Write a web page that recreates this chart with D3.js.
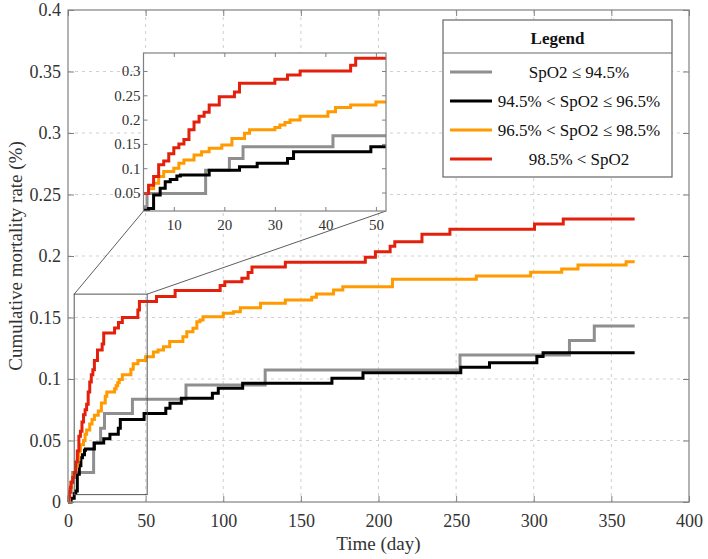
<!DOCTYPE html>
<html>
<head>
<meta charset="utf-8">
<script src="https://cdn.jsdelivr.net/npm/d3@7"></script>
<style>
  body { margin: 0; background: #fff; }
  svg text { font-family: "Liberation Serif", "Times New Roman", serif !important; fill: #333; }
</style>
</head>
<body>
<div id="chart"></div>
<script>
// data: [day, cumulative mortality rate]
const seriesLabels = ['SpO2 \u2264 94.5%', '94.5% < SpO2 \u2264 96.5%', '96.5% < SpO2 \u2264 98.5%', '98.5% < SpO2'];
const seriesColors = ['#8f8f8f', '#000000', '#ff9a00', '#e2200c'];

const grayMain = [[0,0],[1,0.008],[2,0.016],[3,0.024],[16.5,0.048],[21,0.06],[23.5,0.072],[41.5,0.0835],[76,0.0951],
  [127,0.1073],[252.5,0.1195],[323,0.1312],[339,0.1431],[365,0.1431]];
const blackMain = [[0,0],[2,0.003],[4,0.007],[5,0.009],[6,0.0225],[7.3,0.0295],[8.3,0.036],[9.3,0.0385],[10.6,0.042],
  [11.3,0.043],[17,0.048],[23,0.0515],[27,0.055],[32.4,0.06],[33.7,0.067],[49,0.072],[63,0.0762],[65.7,0.0802],
  [73,0.0843],[93,0.0884],[96.8,0.0924],[112.5,0.0965],[170,0.1006],[190,0.1051],[253,0.1095],[271.5,0.1133],
  [302,0.1182],[306,0.1214],[365,0.1214]];
const orangeMain = [[0,0],[1,0.01],[2,0.016],[3,0.021],[4,0.024],[5,0.029],[6,0.0345],[7,0.0415],[8,0.0465],[10,0.05],
  [11,0.055],[12,0.0585],[14,0.0635],[15.5,0.067],[17,0.0705],[19.5,0.074],[21.5,0.0805],[24,0.086],[25,0.0895],
  [30,0.092],[31,0.0945],[32,0.097],[33,0.0995],[35,0.1035],[40.5,0.108],[42,0.1125],[45,0.115],[50,0.118],
  [55,0.122],[58,0.1236],[61.5,0.1263],[65.5,0.1304],[74,0.1344],[76.5,0.1385],[80.5,0.1412],[83,0.1466],
  [85,0.148],[87,0.1507],[100,0.1534],[106.5,0.1547],[111,0.158],[124,0.1615],[140,0.1642],[157,0.1665],
  [160,0.1691],[171,0.1724],[177,0.1751],[209,0.181],[263,0.1837],[298,0.1867],[318,0.1894],[328.5,0.1927],
  [359.5,0.1954],[365,0.1954]];
const redMain = [[0,0],[0.5,0.004],[1,0.008],[1.5,0.012],[2,0.016],[3,0.02],[4,0.024],[5,0.0325],[6,0.0415],[7,0.0535],
  [8,0.0575],[9,0.065],[10,0.071],[11,0.075],[12,0.0795],[13,0.0895],[14,0.0975],[15,0.1035],[16,0.1075],
  [17,0.115],[19,0.1235],[22,0.1285],[23,0.1375],[30,0.1415],[32.5,0.146],[35,0.15],[45,0.156],[46,0.163],
  [57,0.167],[69,0.172],[98,0.176],[101,0.179],[112,0.182],[116,0.1865],[118.5,0.191],[140,0.195],[191.5,0.199],
  [198,0.2035],[207.5,0.208],[210.5,0.2116],[228,0.2176],[246,0.2217],[300.5,0.226],[319,0.2301],[365,0.2301]];

// inset values, as labelled on the inset axes
const grayInset = [[4,0.021],[4.7,0.048],[16.3,0.096],[21,0.12],[23.7,0.144],[41.5,0.167],[52,0.167]];
const blackInset = [[4,0.014],[5,0.017],[6,0.045],[7.3,0.059],[8.3,0.072],[9.3,0.077],[10.6,0.084],[11.3,0.086],
  [17,0.096],[23,0.103],[26.5,0.11],[32.5,0.12],[33.7,0.134],[49,0.144],[52,0.144]];
const orangeInset = [[4,0.048],[5,0.058],[6,0.069],[7,0.083],[8,0.093],[10,0.1],[11,0.11],[12,0.117],[14,0.127],
  [15.5,0.134],[17,0.141],[19.5,0.148],[21.5,0.161],[24,0.172],[25,0.179],[30,0.184],[31,0.189],[32,0.194],
  [33,0.199],[35,0.207],[40.5,0.216],[42,0.225],[45,0.23],[50,0.236],[52,0.236]];
const redInset = [[4,0.048],[5,0.065],[6,0.083],[7,0.107],[8,0.115],[9,0.13],[10,0.142],[11,0.15],[12,0.159],
  [13,0.179],[14,0.195],[15,0.207],[16,0.215],[17,0.23],[19,0.247],[22,0.257],[23,0.275],[30,0.283],[32.5,0.292],
  [35,0.3],[45,0.312],[46,0.326],[52,0.326]];

const xTicks = [0, 50, 100, 150, 200, 250, 300, 350, 400];
const yTicks = [0, 0.05, 0.1, 0.15, 0.2, 0.25, 0.3, 0.35, 0.4];
const insetXTicks = [10, 20, 30, 40, 50];
const insetYTicks = [0.05, 0.1, 0.15, 0.2, 0.25, 0.3];

const mainSeries = [grayMain, blackMain, orangeMain, redMain];
const insetSeries = [grayInset, blackInset, orangeInset, redInset];

// layout
const W = 708, H = 559;
const plot = { left: 68, right: 689, top: 10, bottom: 502 };
const insetBox = { left: 143.5, right: 386, top: 53, bottom: 211 };
const zoomDays = [4, 51], zoomRates = [0.006, 0.169];
const axisColor = '#808080';
const serif = '"Liberation Serif", "Times New Roman", serif';
const fmt = d => String(+d.toFixed(2));

const svg = d3.select('#chart').append('svg')
  .attr('width', W)
  .attr('height', H)
  .attr('font-family', serif);

const x = d3.scaleLinear().domain([0, 400]).range([plot.left, plot.right]);
const y = d3.scaleLinear().domain([0, 0.4]).range([plot.bottom, plot.top]);

const line = d3.line()
  .curve(d3.curveStepAfter)
  .x(d => x(d[0]))
  .y(d => y(d[1]));

// grid
const $grid = svg.append('g').attr('stroke', '#cfcfcf').attr('stroke-dasharray', '3,4');
$grid.selectAll('.vg')
  .data(xTicks.slice(1, -1))
  .enter().append('line')
  .attr('x1', d => x(d)).attr('x2', d => x(d))
  .attr('y1', plot.top).attr('y2', plot.bottom);
$grid.selectAll('.hg')
  .data(yTicks.slice(1, -1))
  .enter().append('line')
  .attr('x1', plot.left).attr('x2', plot.right)
  .attr('y1', d => y(d)).attr('y2', d => y(d));

// curves
svg.append('g').selectAll('path')
  .data(mainSeries)
  .enter().append('path')
  .attr('d', line)
  .attr('fill', 'none')
  .attr('stroke', (d, i) => seriesColors[i])
  .attr('stroke-width', 3);

// zoom rectangle and connectors
svg.append('rect')
  .attr('x', x(zoomDays[0])).attr('y', y(zoomRates[1]))
  .attr('width', x(zoomDays[1]) - x(zoomDays[0]))
  .attr('height', y(zoomRates[0]) - y(zoomRates[1]))
  .attr('fill', 'none').attr('stroke', '#555').attr('stroke-width', 1);

svg.append('line')
  .attr('x1', x(zoomDays[0])).attr('y1', y(zoomRates[1]))
  .attr('x2', insetBox.left).attr('y2', insetBox.bottom)
  .attr('stroke', '#333').attr('stroke-width', 0.8);
svg.append('line')
  .attr('x1', x(zoomDays[1])).attr('y1', y(zoomRates[1]))
  .attr('x2', insetBox.right).attr('y2', insetBox.bottom)
  .attr('stroke', '#333').attr('stroke-width', 0.8);

// inset
const ix = d3.scaleLinear().domain([4, 52]).range([insetBox.left, insetBox.right]);
const iy = d3.scaleLinear().domain([0.012, 0.337]).range([insetBox.bottom, insetBox.top]);
const insetLine = d3.line()
  .curve(d3.curveStepAfter)
  .x(d => ix(d[0]))
  .y(d => iy(d[1]));

svg.append('defs').append('clipPath').attr('id', 'inset-clip')
  .append('rect')
  .attr('x', insetBox.left).attr('y', insetBox.top)
  .attr('width', insetBox.right - insetBox.left)
  .attr('height', insetBox.bottom - insetBox.top);

svg.append('rect')
  .attr('x', insetBox.left).attr('y', insetBox.top)
  .attr('width', insetBox.right - insetBox.left)
  .attr('height', insetBox.bottom - insetBox.top)
  .attr('fill', '#fff');

svg.append('g').attr('clip-path', 'url(#inset-clip)')
  .selectAll('path')
  .data(insetSeries)
  .enter().append('path')
  .attr('d', insetLine)
  .attr('fill', 'none')
  .attr('stroke', (d, i) => seriesColors[i])
  .attr('stroke-width', 3);

function boxAxes(g, xs, ys, xt, yt, tick, pad, fontSize) {
  const parts = [
    g.append('g')
      .attr('transform', `translate(0,${ys.range()[0]})`)
      .call(d3.axisBottom(xs).tickValues(xt).tickSizeInner(-tick).tickSizeOuter(0).tickPadding(pad).tickFormat(fmt)),
    g.append('g')
      .attr('transform', `translate(0,${ys.range()[1]})`)
      .call(d3.axisTop(xs).tickValues(xt).tickSizeInner(-tick).tickSizeOuter(0).tickFormat('')),
    g.append('g')
      .attr('transform', `translate(${xs.range()[0]},0)`)
      .call(d3.axisLeft(ys).tickValues(yt).tickSizeInner(-tick).tickSizeOuter(0).tickPadding(pad - 5).tickFormat(fmt)),
    g.append('g')
      .attr('transform', `translate(${xs.range()[1]},0)`)
      .call(d3.axisRight(ys).tickValues(yt).tickSizeInner(-tick).tickSizeOuter(0).tickFormat(''))
  ];
  parts.forEach(p => p.attr('font-family', serif).attr('font-size', fontSize));
  g.selectAll('.domain').remove();
  g.selectAll('.tick line').attr('stroke', axisColor);
  g.selectAll('.tick text').attr('fill', '#333');
  g.append('rect')
    .attr('x', xs.range()[0]).attr('y', ys.range()[1])
    .attr('width', xs.range()[1] - xs.range()[0])
    .attr('height', ys.range()[0] - ys.range()[1])
    .attr('fill', 'none').attr('stroke', axisColor).attr('stroke-width', 1.2);
}

boxAxes(svg.append('g'), ix, iy, insetXTicks, insetYTicks, 4, 8, 15);

// legend
const lg = { left: 443, right: 672, top: 20, titleBottom: 53, bottom: 177, row0: 72, rowStep: 29 };
const $legend = svg.append('g');
$legend.append('rect')
  .attr('x', lg.left).attr('y', lg.top)
  .attr('width', lg.right - lg.left).attr('height', lg.bottom - lg.top)
  .attr('fill', '#fff').attr('stroke', '#666').attr('stroke-width', 1.2);
$legend.append('line')
  .attr('x1', lg.left).attr('x2', lg.right)
  .attr('y1', lg.titleBottom).attr('y2', lg.titleBottom)
  .attr('stroke', '#666').attr('stroke-width', 1.2);
$legend.append('text')
  .attr('x', (lg.left + lg.right) / 2).attr('y', 44)
  .attr('text-anchor', 'middle')
  .attr('font-size', 17).attr('font-weight', 'bold')
  .style('fill', '#111')
  .text('Legend');

const $items = $legend.selectAll('.item')
  .data(seriesLabels)
  .enter().append('g')
  .attr('transform', (d, i) => `translate(0,${lg.row0 + i * lg.rowStep})`);
$items.append('line')
  .attr('x1', 450).attr('x2', 492)
  .attr('stroke', (d, i) => seriesColors[i])
  .attr('stroke-width', 3);
$items.append('text')
  .attr('x', 579).attr('y', 6)
  .attr('text-anchor', 'middle')
  .attr('font-size', 17)
  .style('fill', '#111')
  .text(d => d);

// main axes on top
boxAxes(svg.append('g'), x, y, xTicks, yTicks, 6, 12, 18);

svg.append('text')
  .attr('x', (plot.left + plot.right) / 2).attr('y', 550)
  .attr('text-anchor', 'middle')
  .attr('font-size', 19)
  .text('Time (day)');
svg.append('text')
  .attr('transform', `translate(22,${(plot.top + plot.bottom) / 2}) rotate(-90)`)
  .attr('text-anchor', 'middle')
  .attr('font-size', 19)
  .text('Cumulative mortality rate (%)');
</script>
</body>
</html>
